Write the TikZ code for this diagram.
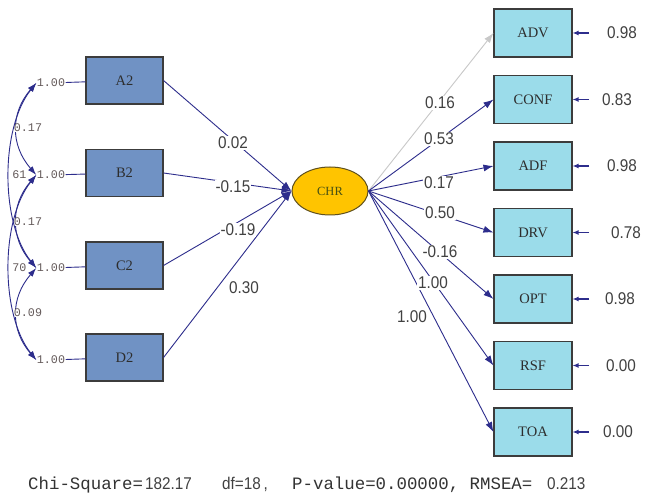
\documentclass[tikz,border=0pt]{standalone}
\usepackage{fontspec}
\setmainfont{Liberation Serif}
\setsansfont[FakeStretch=0.9]{Liberation Sans}
\setmonofont{Liberation Mono}
\usetikzlibrary{arrows.meta,shapes.geometric}

\definecolor{exobox}{RGB}{112,146,196}
\definecolor{endobox}{RGB}{155,220,234}
\definecolor{latfill}{RGB}{255,196,0}
\definecolor{latline}{RGB}{95,80,30}
\definecolor{lattext}{RGB}{70,80,20}
\definecolor{boxline}{RGB}{60,60,60}
\definecolor{boxtext}{RGB}{45,45,45}
\definecolor{pathcol}{RGB}{45,45,140}
\definecolor{advgray}{RGB}{200,200,200}
\definecolor{numcol}{RGB}{65,65,65}
\definecolor{varcol}{RGB}{100,90,90}

\tikzset{
  obs/.style={draw=boxline, line width=1.1pt, minimum width=77pt, minimum height=47pt,
    inner sep=0pt, text=boxtext, font=\fontsize{14.5}{15}\selectfont},
  exo/.style={obs, fill=exobox},
  endo/.style={obs, fill=endobox, minimum width=78pt, minimum height=48pt},
  lat/.style={ellipse, draw=latline, line width=1pt, fill=latfill, minimum width=76pt,
    minimum height=48pt, inner sep=0pt, text=lattext, font=\fontsize{12.5}{13}\selectfont},
  coef/.style={fill=white, inner sep=1pt, text=numcol, font=\sffamily\fontsize{17}{18}\selectfont},
  var/.style={fill=white, inner sep=0.5pt, text=varcol, font=\ttfamily\fontsize{11.7}{12}\selectfont},
  fitmono/.style={anchor=base west, inner sep=0pt, text=black!80, font=\ttfamily\fontsize{17.4}{18}\selectfont},
  fitsans/.style={anchor=base west, inner sep=0pt, text=numcol, font=\sffamily\fontsize{17}{18}\selectfont},
  path/.style={draw=pathcol, line width=0.9pt, -{Latex[length=10pt,width=7pt]}},
  cov/.style={draw=pathcol, line width=0.9pt, {Latex[length=9pt,width=6pt]}-{Latex[length=9pt,width=6pt]}},
  err/.style={draw=pathcol, line width=1.4pt, -{Latex[length=6pt,width=5pt]}},
}

\begin{document}
\begin{tikzpicture}[x=1pt, y=-1pt]
\fill[white] (0,0) rectangle (662,502);
\useasboundingbox (0,0) rectangle (662,502);
% Observed exogenous variables
\node[exo] (A2) at (124.5,80.5) {A2};
\node[exo] (B2) at (124.5,173) {B2};
\node[exo] (C2) at (124.5,265.5) {C2};
\node[exo] (D2) at (124.5,357.5) {D2};
\node[var] (vA) at (51,83) {1.00};
\node[var] (vB) at (51,175) {1.00};
\node[var] (vC) at (51,268) {1.00};
\node[var] (vD) at (51,360) {1.00};
\draw[pathcol, line width=0.9pt] (vA) -- (A2);
\draw[pathcol, line width=0.9pt] (vB) -- (B2);
\draw[pathcol, line width=0.9pt] (vC) -- (C2);
\draw[pathcol, line width=0.9pt] (vD) -- (D2);
% Covariances
\draw[cov] (vA.west) .. controls +(-26,30) and +(-26,-30) .. (vB.west);
\draw[cov] (vB.west) .. controls +(-26,30) and +(-26,-30) .. (vC.west);
\draw[cov] (vC.west) .. controls +(-26,30) and +(-26,-30) .. (vD.west);
\node[coef, var] (cAB) at (28,128) {0.17};
\node[coef, var] (cBC) at (28,222) {0.17};
\node[coef, var] (cCD) at (28,313) {0.09};
\draw[cov] (vA.west) .. controls +(-36,45) and +(-36,-45) .. (vC.west);
\draw[cov] (vB.west) .. controls +(-36,45) and +(-36,-45) .. (vD.west);
\node[var, anchor=east] (cAC) at (27,175) {61};
\node[var, anchor=east] (cBD) at (27,268) {70};
% Latent variable
\node[lat] (CHR) at (330,191) {CHR};
% Observed endogenous variables
\node[endo] (ADV) at (533,33) {ADV};
\node[endo] (CONF) at (533,99.5) {CONF};
\node[endo] (ADF) at (533,166) {ADF};
\node[endo] (DRV) at (533,232.5) {DRV};
\node[endo] (OPT) at (533,299) {OPT};
\node[endo] (RSF) at (533,365.5) {RSF};
\node[endo] (TOA) at (533,432) {TOA};
% Paths into CHR
\draw[path] (A2.east) -- (CHR.west);
\draw[path] (B2.east) -- (CHR.west);
\draw[path] (C2.east) -- (CHR.west);
\draw[path] (D2.east) -- (CHR.west);
\node[coef] (pA) at (233,143) {0.02};
\node[coef] (pB) at (233,187) {-0.15};
\node[coef] (pC) at (238,230) {-0.19};
\node[coef] (pD) at (244,288) {0.30};
% Paths out of CHR
\draw[path, draw=advgray] (CHR.east) -- (ADV.west);
\draw[path] (CHR.east) -- (CONF.west);
\draw[path] (CHR.east) -- (ADF.west);
\draw[path] (CHR.east) -- (DRV.west);
\draw[path] (CHR.east) -- (OPT.west);
\draw[path] (CHR.east) -- (RSF.west);
\draw[path] (CHR.east) -- (TOA.west);
\node[coef] (lADV) at (440,103) {0.16};
\node[coef] (lCONF) at (439,139) {0.53};
\node[coef] (lADF) at (439,183) {0.17};
\node[coef] (lDRV) at (440,213) {0.50};
\node[coef] (lOPT) at (440,252) {-0.16};
\node[coef] (lRSF) at (433,283) {1.00};
\node[coef] (lTOA) at (412,317) {1.00};
% Error variances
\node[coef, anchor=west] (vADV) at (606,33) {0.98};
\node[coef, anchor=west] (vCONF) at (601,99.5) {0.83};
\node[coef, anchor=west] (vADF) at (606,166) {0.98};
\node[coef, anchor=west] (vDRV) at (610,232.5) {0.78};
\node[coef, anchor=west] (vOPT) at (604,299) {0.98};
\node[coef, anchor=west] (vRSF) at (605,365.5) {0.00};
\node[coef, anchor=west] (vTOA) at (602,432) {0.00};
\coordinate (eADV) at (589,33);
\coordinate (eCONF) at (589,99.5);
\coordinate (eADF) at (589,166);
\coordinate (eDRV) at (589,232.5);
\coordinate (eOPT) at (589,299);
\coordinate (eRSF) at (589,365.5);
\coordinate (eTOA) at (589,432);
\draw[err] (eADV) -- (ADV);
\draw[err] (eCONF) -- (CONF);
\draw[err] (eADF) -- (ADF);
\draw[err] (eDRV) -- (DRV);
\draw[err] (eOPT) -- (OPT);
\draw[err] (eRSF) -- (RSF);
\draw[err] (eTOA) -- (TOA);
% Fit statistics
\node[fitmono] (chi) at (28,490) {Chi-Square=};
\node[fitsans] (chiv) at (145,490) {182.17};
\node[fitsans] (df) at (222,490) {df=18\,,};
\node[fitmono] (pval) at (292,490) {P-value=0.00000, RMSEA=};
\node[fitsans] (rmsea) at (547,490) {0.213};
\end{tikzpicture}
\end{document}
